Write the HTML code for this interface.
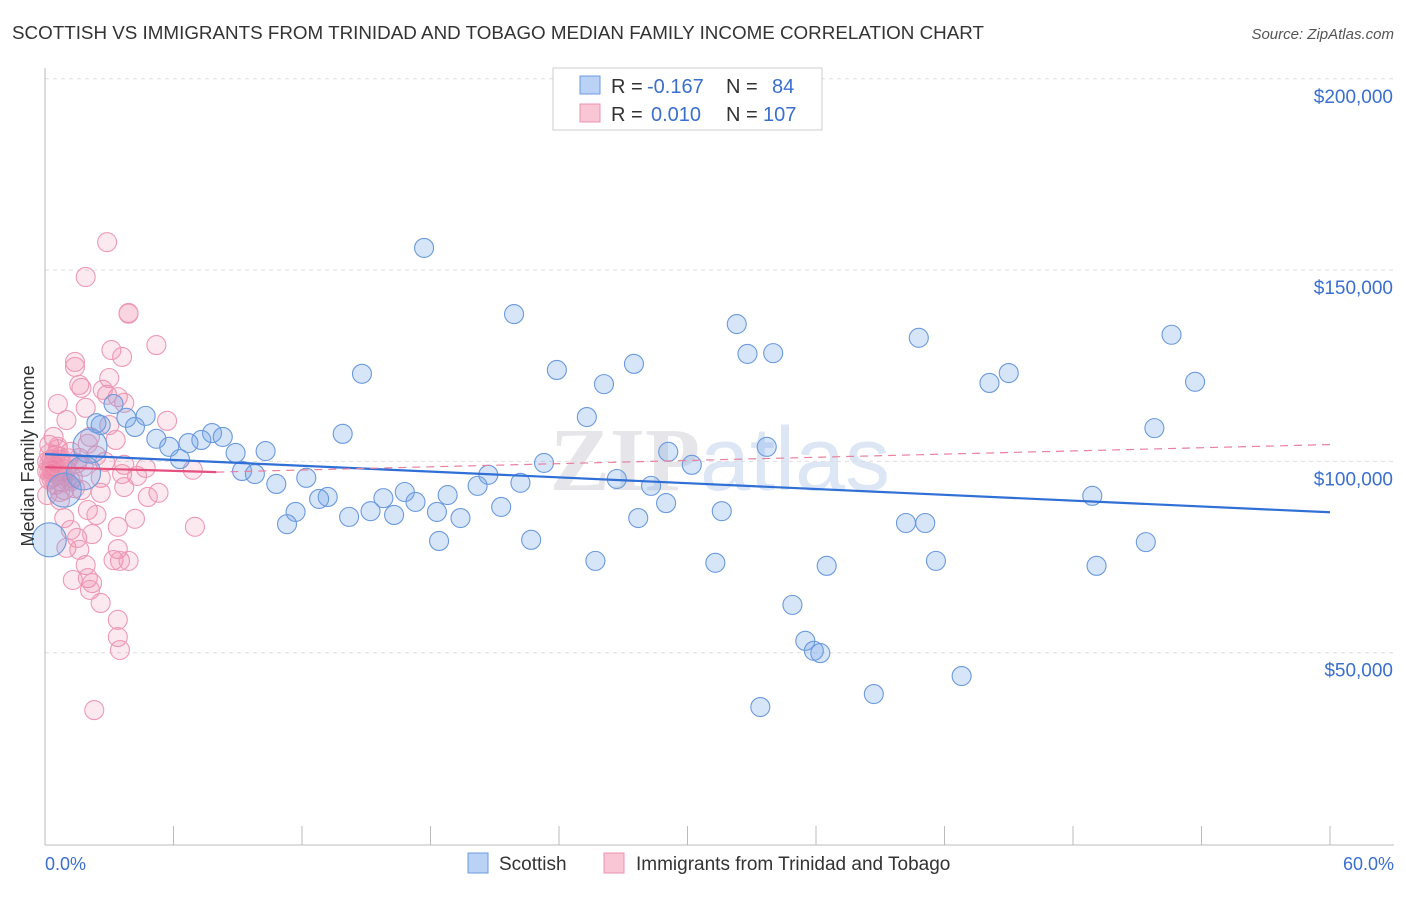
<!DOCTYPE html>
<html><head><meta charset="utf-8"><style>
body{margin:0;background:#fff;font-family:"Liberation Sans",sans-serif}
</style></head><body>
<svg id="c" width="1406" height="892" xmlns="http://www.w3.org/2000/svg" font-family="Liberation Sans, sans-serif">
<text x="12" y="39" font-size="18" fill="#333" textLength="972" lengthAdjust="spacingAndGlyphs">SCOTTISH VS IMMIGRANTS FROM TRINIDAD AND TOBAGO MEDIAN FAMILY INCOME CORRELATION CHART</text>
<text x="1394" y="39" font-size="15" fill="#555" font-style="italic" text-anchor="end">Source: ZipAtlas.com</text>
<text x="720" y="490" font-size="90" fill="#e6e6ea" text-anchor="middle" font-family="Liberation Serif, serif" font-weight="bold">ZIP<tspan fill="#dce6f5" font-family="Liberation Sans, sans-serif" font-weight="normal">atlas</tspan></text>
<g id="grid"></g><g id="axes"></g><g id="pts"></g><g id="trend"></g>
<text transform="translate(34,456) rotate(-90)" font-size="18" fill="#333" text-anchor="middle">Median Family Income</text>
<text x="45" y="870" font-size="18" fill="#3a6fd0">0.0%</text>
<text x="1394" y="870" font-size="18" fill="#3a6fd0" text-anchor="end">60.0%</text>
<g>
<rect x="553" y="68" width="269" height="62" fill="#fff" stroke="#ccc"/>
<rect x="580" y="76" width="20" height="18" fill="#b9d2f5" stroke="#6d9be0"/>
<rect x="580" y="104" width="20" height="18" fill="#f9c6d5" stroke="#ec93b0"/>
<text x="611" y="93" font-size="20" fill="#333">R =</text>
<text x="647" y="93" font-size="20" fill="#3a6fd0">-0.167</text>
<text x="726" y="93" font-size="20" fill="#333">N =</text>
<text x="772" y="93" font-size="20" fill="#3a6fd0">84</text>
<text x="611" y="121" font-size="20" fill="#333">R =</text>
<text x="651" y="121" font-size="20" fill="#3a6fd0">0.010</text>
<text x="726" y="121" font-size="20" fill="#333">N =</text>
<text x="763" y="121" font-size="20" fill="#3a6fd0">107</text>
</g>
<g>
<rect x="468" y="853" width="20" height="20" fill="#b9d2f5" stroke="#6d9be0"/>
<text x="499" y="870" font-size="19" fill="#333">Scottish</text>
<rect x="604" y="853" width="20" height="20" fill="#f9c6d5" stroke="#ec93b0"/>
<text x="636" y="870" font-size="19" fill="#333">Immigrants from Trinidad and Tobago</text>
</g>
</svg>
<script>
const yTicks=[50000,100000,150000,200000];
const yTickLabels=["$50,000","$100,000","$150,000","$200,000"];
const blueX=[17.7,21.9,32.3,52.6,40.8,32.8,34.0,27.5,14.8,23.9,45.0,44.1,53.7,26.1,3.2,4.7,3.8,25.3,2.6,4.2,51.8,13.9,7.8,8.3,5.2,7.3,6.7,5.8,33.7,10.3,8.9,29.1,6.3,23.3,30.2,9.2,9.8,20.7,26.7,12.2,10.8,28.3,20.2,22.2,16.8,18.8,13.2,12.8,15.8,48.9,17.3,29.0,11.7,15.2,16.3,18.3,21.3,31.6,14.2,19.4,27.7,11.3,40.2,41.1,18.4,22.7,51.4,25.7,31.3,41.6,36.5,49.1,34.9,35.5,35.9,36.2,42.8,38.7,33.4,0.2,0.9,2.1,1.8,2.4];
const blueY=[155.8,138.5,135.9,133.1,132.3,128.1,128.3,125.5,122.9,123.9,123.1,120.5,120.8,120.2,115.0,111.9,111.4,111.6,109.5,109.0,108.7,107.2,107.4,106.4,105.9,105.6,104.8,103.8,103.8,102.7,102.2,102.5,100.6,99.6,99.1,97.5,96.7,96.5,95.4,95.7,94.1,93.6,93.6,94.4,92.0,91.2,90.7,90.2,90.4,91.0,89.4,89.1,86.8,87.0,86.0,86.8,88.1,87.0,85.5,85.2,85.2,83.6,83.9,83.9,79.2,79.5,78.9,74.0,73.5,74.0,72.7,72.7,62.5,53.1,50.5,49.9,43.9,39.2,35.8,79.5,92.5,104.0,97.0,110.0];
const blueBig=[0,0,0,0,0,0,0,0,0,0,0,0,0,0,0,0,0,0,0,0,0,0,0,0,0,0,0,0,0,0,0,0,0,0,0,0,0,0,0,0,0,0,0,0,0,0,0,0,0,0,0,0,0,0,0,0,0,0,0,0,0,0,0,0,0,0,0,0,0,0,0,0,0,0,0,0,0,0,0,1,1,1,1,0];
const pinkX=[2.9,1.9,3.9,3.9,5.2,3.1,3.6,1.4,1.4,1.6,3.0,3.4,2.9,1.7,2.7,1.9,3.7,5.7,0.6,1.0,3.0,0.4,2.1,3.3,1.2,0.7,2.8,3.7,4.7,6.9,2.6,3.6,4.3,1.7,2.6,3.7,5.3,4.8,0.7,2.0,0.9,2.4,3.4,4.2,7.0,1.2,1.5,2.2,1.0,1.6,3.4,1.9,3.2,3.5,3.9,1.3,2.0,2.2,2.1,2.6,3.4,3.4,3.5,2.3,0.2,0.5,0.1,0.3,0.6,0.8,0.2,0.5,1.0,1.3,0.9,0.1,0.3,0.6,0.4,0.2,1.1,0.8,0.5,1.5,0.3,0.7,0.2,0.9,1.2,0.4,0.6,1.8,0.3,0.5,0.1,2.4,1.4,0.8,0.6,0.2,1.0,0.4,0.7,1.6,0.3,2.0,0.5];
const pinkY=[157.3,148.2,138.8,138.6,130.4,129.1,127.3,126.0,124.7,120.0,121.8,116.8,117.4,119.2,118.7,114.0,115.3,110.6,115.0,110.8,109.5,106.4,106.4,105.6,102.5,100.4,99.9,99.1,98.3,97.8,95.7,96.7,96.2,92.5,91.8,93.3,91.8,90.7,89.9,87.3,85.2,86.0,82.9,85.0,82.9,82.1,80.0,81.0,77.4,76.9,77.1,72.9,74.2,74.0,74.0,69.0,69.5,68.2,66.4,63.0,58.6,54.1,50.7,35.0,104.3,101.7,99.9,97.8,96.5,99.1,95.2,93.9,97.8,95.7,92.5,91.2,100.5,98.2,96.0,102.0,100.8,94.5,97.0,99.5,98.8,101.2,97.2,96.3,94.8,100.0,103.2,98.6,95.5,99.0,97.5,101.5,93.0,96.8,103.8,99.4,95.0,98.0,92.0,100.9,97.0,104.6,99.3];
const blueTrend=[[0,101.9],[60,86.7]];
const pinkTrend=[[0,98.5],[8,97.2]];
const pinkDash=[[8,97.2],[60,104.4]];
const NS="http://www.w3.org/2000/svg";
const xs=v=>45+v/60*1285, ys=v=>844-v/50000*191.3;
function mk(t,p,a){const e=document.createElementNS(NS,t);for(const k in a)e.setAttribute(k,a[k]);p.appendChild(e);return e;}
const G=document.getElementById('grid'),A=document.getElementById('axes'),P=document.getElementById('pts'),T=document.getElementById('trend');
yTicks.forEach((v,i)=>{const l=mk('line',G,{x1:45,x2:1394,y1:ys(v),y2:ys(v),stroke:'#ddd','stroke-dasharray':'4,4'});

const t=mk('text',A,{x:1393,y:ys(v)+24,'font-size':19,fill:'#3a6fd0','text-anchor':'end'});t.textContent=yTickLabels[i];
});
const ax=mk('line',A,{x1:45,x2:45,y1:68,y2:845,stroke:'#bbb'});
const bx=mk('line',A,{x1:45,x2:1394,y1:845,y2:845,stroke:'#bbb'});
for(let i=0;i<=10;i++){const k=mk('line',A,{x1:xs(i*6),x2:xs(i*6),y1:826,y2:845,stroke:'#bbb'});}
pinkX.forEach((v,i)=>{const c=mk('circle',P,{cx:xs(v),cy:ys(pinkY[i]*1000),r:9.5,fill:'rgba(240,130,165,0.18)',stroke:'#ee9ab5','stroke-width':1.1});
});
blueX.forEach((v,i)=>{const c=mk('circle',P,{cx:xs(v),cy:ys(blueY[i]*1000),r:blueBig[i]?17:9.5,fill:'rgba(110,160,230,0.28)',stroke:'#6b9ade','stroke-width':1.1});
});
function ln(d,col,w,dash,name){const l=mk('line',T,{x1:xs(d[0][0]),y1:ys(d[0][1]*1000),x2:xs(d[1][0]),y2:ys(d[1][1]*1000),stroke:col,'stroke-width':w});if(dash)l.setAttribute('stroke-dasharray',dash);
}
ln(blueTrend,'#2f6fd6',2.2,null,'scottish-trendline');
ln(pinkDash,'#e8809f',1.2,'8,6','trinidad-trendline-dashed');
ln(pinkTrend,'#e6507f',2.2,null,'trinidad-trendline');
</script>
</body></html>
